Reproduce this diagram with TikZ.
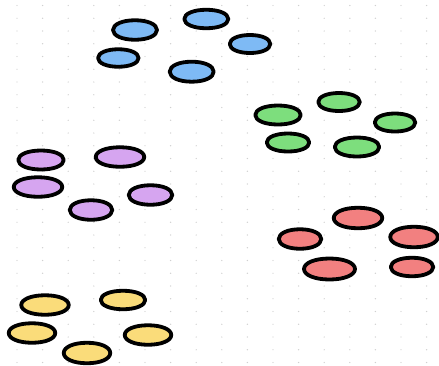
\documentclass[tikz,border=0pt]{standalone}
\usetikzlibrary{shapes.geometric}
\definecolor{cblue}{RGB}{126,186,245}
\definecolor{cgreen}{RGB}{125,222,125}
\definecolor{cpurple}{RGB}{214,165,240}
\definecolor{cred}{RGB}{242,128,128}
\definecolor{cyellow}{RGB}{250,220,122}
\definecolor{griddot}{RGB}{208,208,208}
\tikzset{
  blobcore/.style={ellipse, inner sep=0pt, outer sep=0pt, draw=none},
  blobline/.style={draw=black, line width=3.8pt, line join=round},
}
% name, x, y, w, h, colour
\newcommand\myblob[6]{%
  \node[blobcore, minimum width=#4pt, minimum height=#5pt] (#1) at (#2,#3) {};
  \draw[blobline, fill=#6] ({#2+#4/2},#3)
    .. controls ({#2+#4/2},{#3-0.29*#5}) and ({#2+0.29*#4},{#3-#5/2}) .. ({#2},{#3-#5/2})
    .. controls ({#2-0.29*#4},{#3-#5/2}) and ({#2-#4/2},{#3-0.29*#5}) .. ({#2-#4/2},#3)
    .. controls ({#2-#4/2},{#3+0.29*#5}) and ({#2-0.29*#4},{#3+#5/2}) .. ({#2},{#3+#5/2})
    .. controls ({#2+0.29*#4},{#3+#5/2}) and ({#2+#4/2},{#3+0.29*#5}) .. ({#2+#4/2},#3) -- cycle;
}
\begin{document}
\begin{tikzpicture}[x=1pt,y=-1pt]
\useasboundingbox (0,0) rectangle (439,365);
\fill[white] (0,0) rectangle (439,365);
\foreach \i in {0,...,16}{
  \foreach \j in {0,...,28}{
    \fill[griddot] ({17+25.6*\i},{5.5+12.75*\j}) circle (0.7pt);
  }
}
% blue
\myblob{b1}{135}{30}{44}{19.5}{cblue}
\myblob{b2}{206.3}{19}{44}{18.5}{cblue}
\myblob{b3}{250}{44}{40.5}{18}{cblue}
\myblob{b4}{118.3}{58}{40.5}{17.5}{cblue}
\myblob{b5}{191.7}{71.7}{44}{20}{cblue}
% green
\myblob{g1}{339}{102}{41.5}{18}{cgreen}
\myblob{g2}{278}{115}{45.5}{19}{cgreen}
\myblob{g3}{395}{122.5}{40.5}{18}{cgreen}
\myblob{g4}{288}{142.5}{42.5}{18}{cgreen}
\myblob{g5}{357}{147}{44.5}{19}{cgreen}
% purple
\myblob{p1}{41}{160}{45.5}{19}{cpurple}
\myblob{p2}{120}{157}{48.5}{19.5}{cpurple}
\myblob{p3}{38}{187}{48.5}{19.5}{cpurple}
\myblob{p4}{150.5}{195}{43.5}{19.5}{cpurple}
\myblob{p5}{91}{210}{42.5}{19.5}{cpurple}
% red
\myblob{r1}{358}{218}{48.5}{20.5}{cred}
\myblob{r2}{300}{239}{42.5}{19.5}{cred}
\myblob{r3}{414}{237}{47.5}{20.5}{cred}
\myblob{r4}{329.5}{269}{51}{21}{cred}
\myblob{r5}{412}{267}{42.5}{18.5}{cred}
% yellow
\myblob{y1}{45}{305}{47.5}{19.5}{cyellow}
\myblob{y2}{123}{300}{44.5}{18.5}{cyellow}
\myblob{y3}{32}{333}{46.5}{19.5}{cyellow}
\myblob{y4}{148}{335}{46.5}{19.5}{cyellow}
\myblob{y5}{87}{353}{46.5}{20.5}{cyellow}
\end{tikzpicture}
\end{document}
